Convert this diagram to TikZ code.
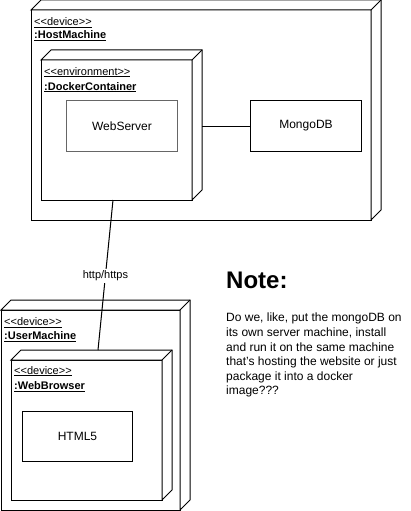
\documentclass[tikz,border=0pt]{standalone}
\usepackage{fontspec}
\setmainfont{Liberation Sans}
\usetikzlibrary{positioning}

\definecolor{wsgray}{HTML}{666666}

\tikzset{
  devbox/.style={draw, fill=white, line width=1pt, inner sep=0pt, outer sep=0pt, anchor=north west},
  artbox/.style={draw, fill=white, line width=1pt, inner sep=0pt, anchor=north west, font=\fontsize{12}{14}\selectfont},
  lbl/.style={inner sep=0pt, anchor=base west, font=\fontsize{11}{13}\selectfont},
}
% top and side faces of a 3D box
\newcommand{\boxdepth}[1]{%
  \draw[line width=1pt, fill=white, line join=miter] (#1.north west) -- ++(10,-10) -- ([shift={(10,-10)}]#1.north east)
    -- ([shift={(10,-10)}]#1.south east) -- (#1.south east) -- (#1.north east) -- cycle;
  \draw[line width=1pt] (#1.north east) -- ++(10,-10);}
\newcommand{\stereo}[1]{\underline{<{}<#1>{}>}}

\begin{document}
\begin{tikzpicture}[x=1pt,y=-1pt]
\useasboundingbox (0,0) rectangle (411,511);
\fill[white] (0,0) rectangle (411,511);

\node[devbox, minimum width=340pt, minimum height=210pt] (host) at (31,10) {};
\boxdepth{host}
\node[lbl] (hoststereo) at (34,25.5) {\stereo{device}\,};
\node[lbl] (hostname) at (34,39) {\textbf{\underline{:HostMachine}}};

\node[devbox, minimum width=151pt, minimum height=140pt] (docker) at (41,60) {};
\boxdepth{docker}
\node[lbl] (dockerstereo) at (44,75) {\stereo{environment}};
\node[lbl] (dockername) at (44,90) {\textbf{\underline{:DockerContainer}}};

\node[artbox, draw=wsgray, minimum width=111pt, minimum height=51pt] (webserver) at (66,100) {WebServer};
\node[artbox, minimum width=111pt, minimum height=51pt] (mongo) at (250,100) {MongoDB};
\coordinate (dockerback) at ([xshift=10]docker.east);
\draw[line width=1pt] (mongo.west) -- (mongo.west -| dockerback);

\node[devbox, minimum width=179pt, minimum height=200pt] (user) at (1,310) {};
\boxdepth{user}
\node[lbl] (userstereo) at (4,325.5) {\stereo{device}};
\node[lbl] (username) at (4,339.5) {\textbf{\underline{:UserMachine}}};

\node[devbox, minimum width=151pt, minimum height=140pt] (browser) at (11,360) {};
\boxdepth{browser}
\node[lbl] (browserstereo) at (14,374) {\stereo{device}};
\node[lbl] (browsername) at (14,389.5) {\textbf{\underline{:WebBrowser}}};

\node[artbox, minimum width=110pt, minimum height=50pt] (html) at (22,411) {HTML5};

\coordinate (dockerport) at (113,200);
\coordinate (browserport) at (98,350);
\draw[line width=1pt] (dockerport) -- node[pos=0.507, fill=white, inner sep=1.5pt, font=\fontsize{11}{13}\selectfont] (proto) {http/https} (browserport);

\node[inner sep=0pt, anchor=base west, font=\fontsize{24}{28}\bfseries] (notetitle) at (226,288) {Note:};
\node[inner sep=0pt, anchor=north west, align=left, font=\fontsize{12}{14.6}\selectfont] (notebody) at (226,313)
  {Do we, like, put the mongoDB on\\its own server machine, install\\and run it on the same machine\\that's hosting the website or just\\package it into a docker\\image???};
\end{tikzpicture}
\end{document}
